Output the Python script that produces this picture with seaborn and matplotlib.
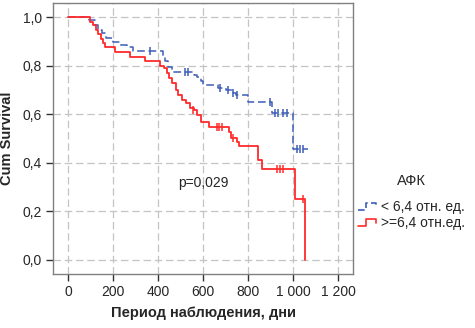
import matplotlib
matplotlib.use("Agg")
import matplotlib.pyplot as plt
from matplotlib.legend_handler import HandlerBase
from matplotlib.lines import Line2D
import seaborn as sns
import pandas as pd

sns.set_style("white")
plt.rcParams['font.family'] = ['Liberation Sans', 'DejaVu Sans']

# blue group: < 6,4
blue_t = [0, 95, 120, 135, 150, 170, 200, 230, 260, 290, 420, 430, 445, 460, 560,
          575, 590, 600, 665, 700, 730, 745, 800, 905, 1000, 1065]
blue_s = [1.0, 0.988, 0.967, 0.945, 0.934, 0.914, 0.897, 0.885, 0.875, 0.86, 0.84,
          0.82, 0.794, 0.774, 0.763, 0.753, 0.735, 0.72, 0.708, 0.70, 0.687, 0.679,
          0.65, 0.605, 0.455, 0.455]
blue_cens_t = [365, 520, 533, 676, 711, 733, 751, 898, 920, 933, 956, 973, 1018, 1031, 1044]
blue_cens_s = [0.86, 0.774, 0.774, 0.708, 0.70, 0.687, 0.679, 0.65, 0.605, 0.605, 0.605,
               0.605, 0.455, 0.455, 0.455]

# red group: >= 6,4
red_t = [0, 98, 110, 125, 135, 145, 155, 165, 210, 275, 340, 410, 425, 440, 450, 460,
         480, 490, 505, 525, 540, 560, 575, 590, 625, 715, 725, 750, 760, 845, 862,
         1009, 1053]
red_s = [1.0, 0.98, 0.967, 0.945, 0.93, 0.91, 0.893, 0.877, 0.856, 0.835, 0.819, 0.80,
         0.79, 0.77, 0.75, 0.73, 0.70, 0.68, 0.66, 0.646, 0.625, 0.617, 0.597, 0.568,
         0.547, 0.527, 0.502, 0.486, 0.469, 0.41, 0.375, 0.25, 0.0]
red_cens_t = [555, 660, 672, 684, 735, 929, 942, 956, 1044]
red_cens_s = [0.617, 0.547, 0.547, 0.547, 0.502, 0.375, 0.375, 0.375, 0.25]

labels = ["< 6,4 отн. ед.", ">=6,4 отн.ед."]
blue = "#3d5cb8"
red = "#ff2b2b"

blue_df = pd.DataFrame({"t": blue_t, "s": blue_s})
red_df = pd.DataFrame({"t": red_t, "s": red_s})

fig = plt.figure(figsize=(4.75, 3.28), dpi=100)
ax = fig.add_axes([0.1116, 0.165, 0.6316, 0.826])

sns.lineplot(data=blue_df, x="t", y="s", drawstyle="steps-post", estimator=None,
             color=blue, lw=1.1, dashes=False, ax=ax)
ax.lines[-1].set_dashes([5, 2.5])
sns.lineplot(data=red_df, x="t", y="s", drawstyle="steps-post", estimator=None,
             color=red, lw=1.3, ax=ax)
sns.scatterplot(x=blue_cens_t, y=blue_cens_s, marker="|", s=28, color=blue,
                linewidth=1.1, ax=ax, zorder=4)
sns.scatterplot(x=red_cens_t, y=red_cens_s, marker="|", s=28, color=red,
                linewidth=1.1, ax=ax, zorder=4)

ax.set_xlim(-67, 1267)
ax.set_ylim(-0.058, 1.058)
ax.set_xticks([0, 200, 400, 600, 800, 1000, 1200])
ax.set_xticklabels(["0", "200", "400", "600", "800", "1 000", "1 200"])
ax.set_yticks([0, 0.2, 0.4, 0.6, 0.8, 1.0])
ax.set_yticklabels(["0,0", "0,2", "0,4", "0,6", "0,8", "1,0"])
ax.tick_params(axis="both", direction="out", length=5, width=1, color="#333333",
               labelsize=10, pad=3, bottom=True, left=True)
ax.grid(True, color="#c4c4c4", linestyle=(0, (6, 3)), linewidth=0.9)
ax.set_axisbelow(True)
for sp in ax.spines.values():
    sp.set_color("#808080")
    sp.set_linewidth(1.0)

ax.set_xlabel("Период наблюдения, дни", fontsize=10.5, fontweight="bold", labelpad=5)
ax.set_ylabel("Cum Survival", fontsize=10.5, fontweight="bold", labelpad=6)
ax.text(600, 0.317, "p=0,029", fontsize=10, ha="center", va="center")


class StepHandler(HandlerBase):
    def create_artists(self, legend, orig, xd, yd, width, height, fontsize, trans):
        x0 = xd
        y0 = yd + 0.1 * height
        y1 = yd + 0.85 * height
        xs = [x0, x0 + 0.45 * width, x0 + 0.45 * width, x0 + width, x0 + width]
        ys = [y0, y0, y1, y1, y0 + 0.35 * height]
        ln = Line2D(xs, ys, color=orig.get_color(), lw=1.2, linestyle=orig.get_linestyle(),
                    transform=trans)
        if orig.get_linestyle() == "--":
            ln.set_dashes([4, 2])
        return [ln]


h1 = Line2D([], [], color=blue, linestyle="--")
h2 = Line2D([], [], color=red, linestyle="-")
leg = fig.legend([h1, h2], labels, title="АФК", loc="upper left",
                 bbox_to_anchor=(0.754, 0.47), frameon=False, fontsize=10,
                 title_fontsize=10.5, handler_map={Line2D: StepHandler()},
                 handlelength=1.3, handletextpad=0.35, labelspacing=0.15,
                 borderpad=0, borderaxespad=0)
leg._legend_box.sep = 9

fig.savefig("out.png", dpi=100)
